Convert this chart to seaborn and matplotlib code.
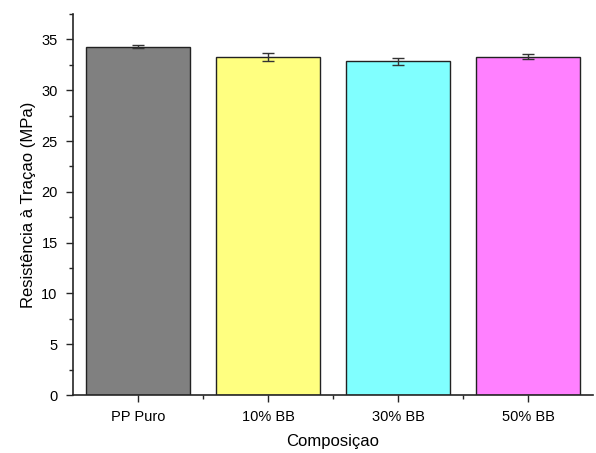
import matplotlib
matplotlib.use("Agg")
import matplotlib.pyplot as plt
import seaborn as sns
import pandas as pd
from matplotlib.ticker import MultipleLocator

categories = ["PP Puro", "10% BB", "30% BB", "50% BB"]
values = [34.3, 33.25, 32.85, 33.28]
errors = [0.15, 0.4, 0.35, 0.25]
colors = ["#808080", "#FFFF80", "#80FFFF", "#FF80FF"]

sns.set_style("ticks")
plt.rcParams['font.family'] = ['Liberation Sans', 'DejaVu Sans']

df = pd.DataFrame({"cat": categories, "val": values})
fig = plt.figure(figsize=(5.96, 4.53), dpi=100)
ax = fig.add_axes([0.1225, 0.128, 0.8725, 0.841])
sns.barplot(data=df, x="cat", y="val", hue="cat", palette=colors, legend=False,
            width=0.8, edgecolor="#222222", linewidth=1.0, saturation=1, ax=ax, errorbar=None)
ax.errorbar(range(len(categories)), values, yerr=errors, fmt="none", ecolor="#333333",
            elinewidth=1.0, capsize=4, capthick=1.0)
ax.set_xlim(-0.5, 3.5)
ax.set_ylim(0, 37.5)
ax.yaxis.set_major_locator(MultipleLocator(5))
ax.yaxis.set_minor_locator(MultipleLocator(2.5))
ax.set_xticks([0.5, 1.5, 2.5], minor=True)
ax.tick_params(axis="both", which="major", length=5, width=1, labelsize=10.5,
               direction="out", pad=6, labelcolor="black")
ax.tick_params(axis="both", which="minor", length=3, width=1, direction="out")
for s in ["top", "right"]:
    ax.spines[s].set_visible(False)
for s in ["left", "bottom"]:
    ax.spines[s].set_linewidth(1.2)
ax.set_xlabel("Composiçao", fontsize=12, labelpad=7, color="black")
ax.set_ylabel("Resistência à Traçao (MPa)", fontsize=12, labelpad=4, color="black")
fig.savefig("out.png", dpi=100)
